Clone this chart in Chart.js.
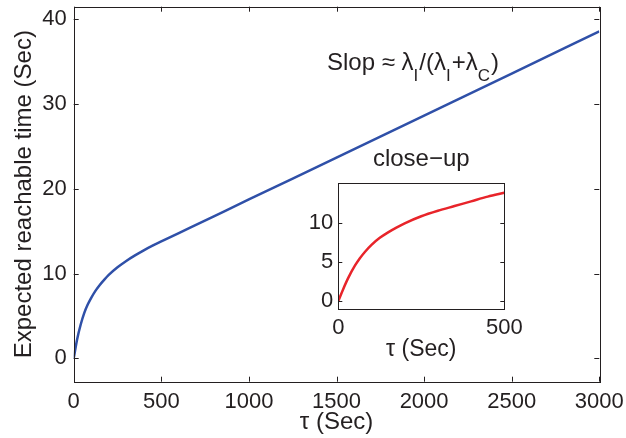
<!DOCTYPE html>
<html>
<head>
<meta charset="utf-8">
<script src="https://cdn.jsdelivr.net/npm/chart.js@4.4.1/dist/chart.umd.min.js"></script>
<style>
  html, body { margin: 0; padding: 0; background: #ffffff; }
  #wrap { position: relative; width: 626px; height: 438px; }
  #main { position: absolute; left: 0; top: 0; }
  #inset { position: absolute; left: 280px; top: 130px; }
</style>
</head>
<body>
<div id="wrap">
  <canvas id="main" width="626" height="438"></canvas>
  <canvas id="inset" width="260" height="240"></canvas>
</div>
<script>
// Expected reachable time vs. tau (main curve)
const tau = [0, 20, 40, 60, 80, 100, 125, 150, 175, 200, 250, 300, 350, 400, 450, 500, 600, 800, 1000, 1500, 2000, 2500, 3000];
const reachTime = [0, 2.3, 4.0, 5.35, 6.35, 7.15, 8.0, 8.7, 9.3, 9.85, 10.75, 11.5, 12.15, 12.75, 13.3, 13.8, 14.79, 16.77, 18.75, 23.7, 28.65, 33.6, 38.6];

// Close-up over the first 500 s
const insetTau = [0, 15, 30, 50, 65, 80, 100, 125, 150, 175, 200, 250, 300, 350, 400, 450, 500];
const insetTime = [0, 1.55, 2.95, 4.5, 5.45, 6.25, 7.15, 8.05, 8.75, 9.35, 9.9, 10.8, 11.5, 12.1, 12.7, 13.3, 13.8];

// Tick labels
const xTicks = [0, 500, 1000, 1500, 2000, 2500, 3000];
const yTicks = [0, 10, 20, 30, 40];
const insetXTicks = [0, 500];
const insetYTicks = [0, 5, 10];

const INK = '#231f20';
const FONT = "'Liberation Sans', Arial, Helvetica, sans-serif";

function toPoints(xs, ys) { return xs.map((x, i) => ({ x: x, y: ys[i] })); }
const plain = v => String(v);

// Box around the plot area with inward tick marks on all four sides
function boxPlugin(tickLen) {
  return {
    id: 'boxTicks',
    afterDatasetsDraw(chart) {
      const ctx = chart.ctx;
      const a = chart.chartArea;
      const xs = chart.scales.x, ys = chart.scales.y;
      ctx.save();
      ctx.strokeStyle = INK;
      ctx.lineWidth = 1;
      ctx.strokeRect(Math.round(a.left) + 0.5, Math.round(a.top) + 0.5,
                     Math.round(a.right - a.left), Math.round(a.bottom - a.top));
      ctx.beginPath();
      xs.ticks.forEach(t => {
        const px = Math.round(xs.getPixelForValue(t.value)) + 0.5;
        ctx.moveTo(px, a.bottom); ctx.lineTo(px, a.bottom - tickLen);
        ctx.moveTo(px, a.top); ctx.lineTo(px, a.top + tickLen);
      });
      ys.ticks.forEach(t => {
        const py = Math.round(ys.getPixelForValue(t.value)) + 0.5;
        ctx.moveTo(a.left, py); ctx.lineTo(a.left + tickLen, py);
        ctx.moveTo(a.right, py); ctx.lineTo(a.right - tickLen, py);
      });
      ctx.stroke();
      ctx.restore();
    }
  };
}

// Slope annotation with subscripts
const slopeNote = {
  id: 'slopeNote',
  afterDraw(chart) {
    const ctx = chart.ctx;
    ctx.save();
    ctx.fillStyle = INK;
    ctx.textBaseline = 'alphabetic';
    const parts = [
      ['Slop \u2248 \u03bb', false], ['I', true], ['/(\u03bb', false], ['I', true],
      ['+\u03bb', false], ['C', true], [')', false]
    ];
    let x = 327, y = 70;
    parts.forEach(([txt, sub]) => {
      ctx.font = (sub ? '17px ' : '24px ') + FONT;
      ctx.fillText(txt, x, sub ? y + 11 : y);
      x += ctx.measureText(txt).width + (sub ? 1 : 0);
    });
    ctx.restore();
  }
};

// Heading above the close-up, centred on its plot area
const closeUpTitle = {
  id: 'closeUpTitle',
  afterDraw(chart) {
    const ctx = chart.ctx;
    const a = chart.chartArea;
    ctx.save();
    ctx.fillStyle = INK;
    ctx.font = '24px ' + FONT;
    ctx.textAlign = 'center';
    ctx.textBaseline = 'alphabetic';
    ctx.fillText('close\u2212up', (a.left + a.right) / 2, 35.7);
    ctx.restore();
  }
};

new Chart(document.getElementById('main'), {
  type: 'line',
  data: {
    datasets: [{
      data: toPoints(tau, reachTime),
      borderColor: '#2f50a8',
      borderWidth: 2.5,
      pointRadius: 0,
      cubicInterpolationMode: 'monotone',
      fill: false
    }]
  },
  options: {
    responsive: false,
    devicePixelRatio: 1,
    animation: false,
    layout: { padding: { left: 0, right: 26.7, top: 6.7, bottom: 0 } },
    plugins: { legend: { display: false }, tooltip: { enabled: false } },
    scales: {
      x: {
        type: 'linear', min: 0, max: 3000,
        afterBuildTicks: s => { s.ticks = xTicks.map(v => ({ value: v })); },
        afterFit: s => { s.height = 56.3; s.paddingLeft = 0; s.paddingRight = 0; },
        grid: { display: false, drawTicks: false },
        border: { display: false },
        ticks: { color: INK, font: { family: FONT, size: 22 }, padding: 7, maxRotation: 0, autoSkip: false, callback: plain },
        title: { display: true, text: '\u03c4 (Sec)', color: INK, font: { family: FONT, size: 24 }, padding: { top: 0, bottom: 1.5 } }
      },
      y: {
        type: 'linear', min: -2.75, max: 41.5,
        afterBuildTicks: s => { s.ticks = yTicks.map(v => ({ value: v })); },
        afterFit: s => { s.width = 73.7; s.paddingTop = 0; s.paddingBottom = 0; },
        grid: { display: false, drawTicks: false },
        border: { display: false },
        ticks: { color: INK, font: { family: FONT, size: 22 }, padding: 7, autoSkip: false, callback: plain },
        title: { display: true, text: 'Expected reachable time (Sec)', color: INK, font: { family: FONT, size: 24 }, padding: { top: 9.8, bottom: 0 } }
      }
    }
  },
  plugins: [boxPlugin(5), slopeNote]
});

new Chart(document.getElementById('inset'), {
  type: 'line',
  data: {
    datasets: [{
      data: toPoints(insetTau, insetTime),
      borderColor: '#e8242a',
      borderWidth: 2.5,
      pointRadius: 0,
      cubicInterpolationMode: 'monotone',
      fill: false
    }]
  },
  options: {
    responsive: false,
    devicePixelRatio: 1,
    animation: false,
    layout: { padding: { left: 0, right: 35.7, top: 53.3, bottom: 0 } },
    plugins: { legend: { display: false }, tooltip: { enabled: false } },
    scales: {
      x: {
        type: 'linear', min: 0, max: 500,
        afterBuildTicks: s => { s.ticks = insetXTicks.map(v => ({ value: v })); },
        afterFit: s => { s.height = 60.7; s.paddingLeft = 0; s.paddingRight = 0; },
        grid: { display: false, drawTicks: false },
        border: { display: false },
        ticks: { color: INK, font: { family: FONT, size: 22 }, padding: 5, maxRotation: 0, autoSkip: false, callback: plain },
        title: { display: true, text: '\u03c4 (Sec)', color: INK, font: { family: FONT, size: 23 }, padding: { top: 0, bottom: 6.8 } }
      },
      y: {
        type: 'linear', min: -1.05, max: 15,
        afterBuildTicks: s => { s.ticks = insetYTicks.map(v => ({ value: v })); },
        afterFit: s => { s.width = 58.3; s.paddingTop = 0; s.paddingBottom = 0; },
        grid: { display: false, drawTicks: false },
        border: { display: false },
        ticks: { color: INK, font: { family: FONT, size: 22 }, padding: 5, autoSkip: false, callback: plain }
      }
    }
  },
  plugins: [boxPlugin(4), closeUpTitle]
});
</script>
</body>
</html>
